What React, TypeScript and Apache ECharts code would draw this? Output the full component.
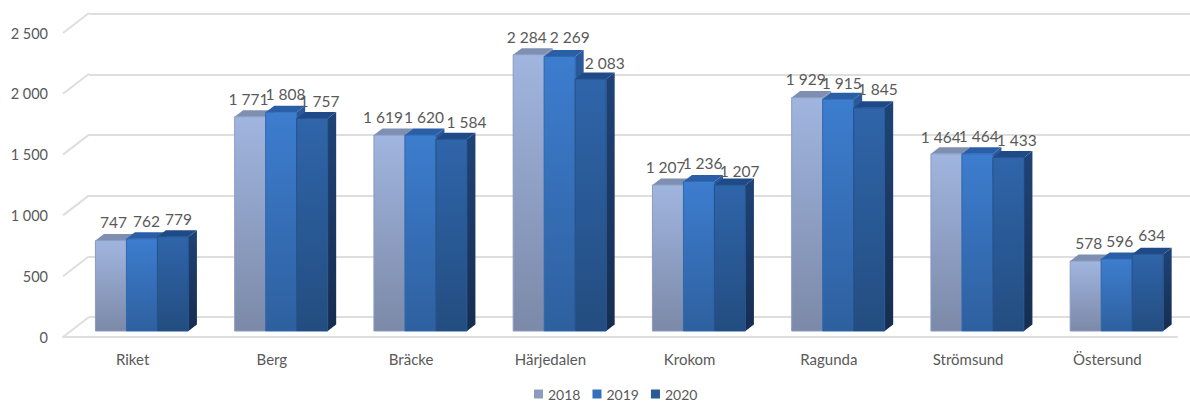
import React, { useEffect, useRef } from "react";
import * as echarts from "echarts";

const categories = ["Riket", "Berg", "Bräcke", "Härjedalen", "Krokom", "Ragunda", "Strömsund", "Östersund"];
const years = ["2018", "2019", "2020"];
const values2018 = [747, 1771, 1619, 2284, 1207, 1929, 1464, 578];
const values2019 = [762, 1808, 1620, 2269, 1236, 1915, 1464, 596];
const values2020 = [779, 1757, 1584, 2083, 1207, 1845, 1433, 634];
const yTicks = [0, 500, 1000, 1500, 2000, 2500];

// hand-placed label nudges (px), as in the source chart
const nudgeX = [
  [2.5, -1.7, -6.4, -2, -2.3, -1.5, -5.7, 3.1],
  [4.5, 4.3, 3.6, 10, 3.7, 3.5, 1.3, 3.1],
  [5.5, 7.3, 15.1, 14, 9.7, 8.5, 8.3, 4.1],
];
const nudgeY = [
  [-18.6, -17.7, -18, -17.6, -18, -18.6, -17, -18],
  [-17.8, -18.2, -18, -19.4, -18.4, -16.3, -18, -18],
  [-17.7, -17.4, -17, -16, -14, -18.8, -17.6, -19],
];

const FONT = "Lato, 'Noto Sans', sans-serif";
const TEXT = "#595959";
const LINE = "#DEDEDE";
const BAR_W = 31;
const DX = 8.5;
const DY = 6.5;

const grad = (a: string, b: string) => new echarts.graphic.LinearGradient(0, 0, 0, 1, [
  { offset: 0, color: a },
  { offset: 1, color: b },
]);

const palette = [
  { front: ["#A0B5DF", "#7C89A8"], top: "#7F8FB2", side: ["#7F8FB2", "#5E6B88"], edge: "#8A9BC0", legend: "#8C9CC0" },
  { front: ["#3D7DCF", "#2E609F"], top: "#2A5FA8", side: ["#2A5A9C", "#1F4674"], edge: "#2F68AE", legend: "#3570B8" },
  { front: ["#2F65AA", "#234D80"], top: "#1F4A88", side: ["#1F4377", "#162D50"], edge: "#26528C", legend: "#2A5A96" },
];

function fmt(v: number): string {
  const s = String(v);
  return s.length > 3 ? s.slice(0, -3) + " " + s.slice(-3) : s;
}

function barSeries(si: number, vals: number[]) {
  const p = palette[si];
  return {
    type: "custom",
    name: years[si],
    xAxisIndex: 0,
    yAxisIndex: 0,
    clip: false,
    z: 5 + si,
    itemStyle: { color: p.legend },
    data: vals.map((v, i) => [i, v]),
    encode: { x: 0, y: 1 },
    renderItem: (_: any, api: any) => {
      const i = api.value(0);
      const v = api.value(1);
      const t = api.coord([i, v]);
      const b = api.coord([i, 0]);
      const x0 = t[0] + 9.3 + (si - 1.5) * BAR_W;
      const x1 = x0 + BAR_W;
      const yt = t[1];
      const yb = b[1];
      return {
        type: "group",
        children: [
          {
            type: "polygon",
            shape: { points: [[x1, yt], [x1 + DX, yt - DY], [x1 + DX, yb - DY], [x1, yb]] },
            style: { fill: grad(p.side[0], p.side[1]) },
          },
          {
            type: "polygon",
            shape: { points: [[x0, yt], [x0 + DX, yt - DY], [x1 + DX, yt - DY], [x1, yt]] },
            style: { fill: p.top },
          },
          {
            type: "rect",
            shape: { x: x0, y: yt, width: BAR_W, height: yb - yt },
            style: { fill: grad(p.front[0], p.front[1]), stroke: p.edge, lineWidth: 1 },
          },
          {
            type: "text",
            z2: 50,
            style: {
              text: fmt(v),
              x: x0 + BAR_W / 2 + nudgeX[si][i],
              y: yt + nudgeY[si][i],
              align: "center",
              verticalAlign: "middle",
              fill: TEXT,
              font: `15.5px ${FONT}`,
            },
          },
        ],
      };
    },
  };
}

export default function App() {
  const ref = useRef<HTMLDivElement>(null);
  useEffect(() => {
    document.body.style.margin = "0";
    const chart = echarts.init(ref.current!, null, { renderer: "svg" });
    chart.setOption({
      animation: false,
      backgroundColor: "#FFFFFF",
      legend: {
        data: years,
        left: 534,
        top: 387,
        padding: 0,
        itemWidth: 9,
        itemHeight: 9,
        itemGap: 12,
        icon: "rect",
        textStyle: { color: TEXT, fontFamily: FONT, fontSize: 14 },
      },
      grid: [
        // bars, front plane
        { left: 63, right: 13, top: 28.5, height: 302.5 },
        // back wall
        { left: 89, right: 0, top: 14, height: 303 },
        // axis labels, floor front edge
        { left: 63, right: 13, top: 33, height: 304 },
      ],
      xAxis: [
        { gridIndex: 0, type: "category", data: categories, show: false },
        { gridIndex: 1, type: "category", data: categories, show: false },
        {
          gridIndex: 2,
          type: "category",
          data: categories,
          axisLine: { show: true, lineStyle: { color: LINE, width: 2 } },
          axisTick: { show: false },
          axisLabel: { color: TEXT, fontFamily: FONT, fontSize: 15, margin: 14 },
        },
      ],
      yAxis: [
        { gridIndex: 0, type: "value", min: 0, max: 2500, interval: 500, show: false },
        {
          gridIndex: 1,
          type: "value",
          min: 0,
          max: 2500,
          interval: 500,
          axisLine: { show: false },
          axisTick: { show: false },
          axisLabel: { show: false },
          splitLine: { show: true, lineStyle: { color: LINE, width: 2 } },
        },
        {
          gridIndex: 2,
          type: "value",
          min: 0,
          max: 2500,
          interval: 500,
          axisLine: { show: false },
          axisTick: { show: false },
          splitLine: { show: false },
          axisLabel: {
            color: TEXT,
            fontFamily: FONT,
            fontSize: 14.5,
            margin: 15,
            formatter: (v: number) => fmt(v),
          },
        },
      ],
      series: [
        {
          type: "custom",
          xAxisIndex: 2,
          yAxisIndex: 2,
          clip: false,
          z: 1,
          silent: true,
          data: yTicks.map((t) => [0, t]),
          encode: { x: 0, y: 1 },
          renderItem: (_: any, api: any) => {
            const c = api.coord([0, api.value(1)]);
            const x0 = c[0] - api.size([1, 0])[0] / 2;
            return {
              type: "line",
              shape: { x1: x0, y1: c[1], x2: x0 + 26, y2: c[1] - 20 },
              style: { stroke: LINE, lineWidth: 2 },
            };
          },
        },
        barSeries(0, values2018),
        barSeries(1, values2019),
        barSeries(2, values2020),
      ],
    });
    return () => chart.dispose();
  }, []);
  return <div ref={ref} style={{ position: "absolute", left: 0, top: 0, width: 1190, height: 403 }} />;
}
